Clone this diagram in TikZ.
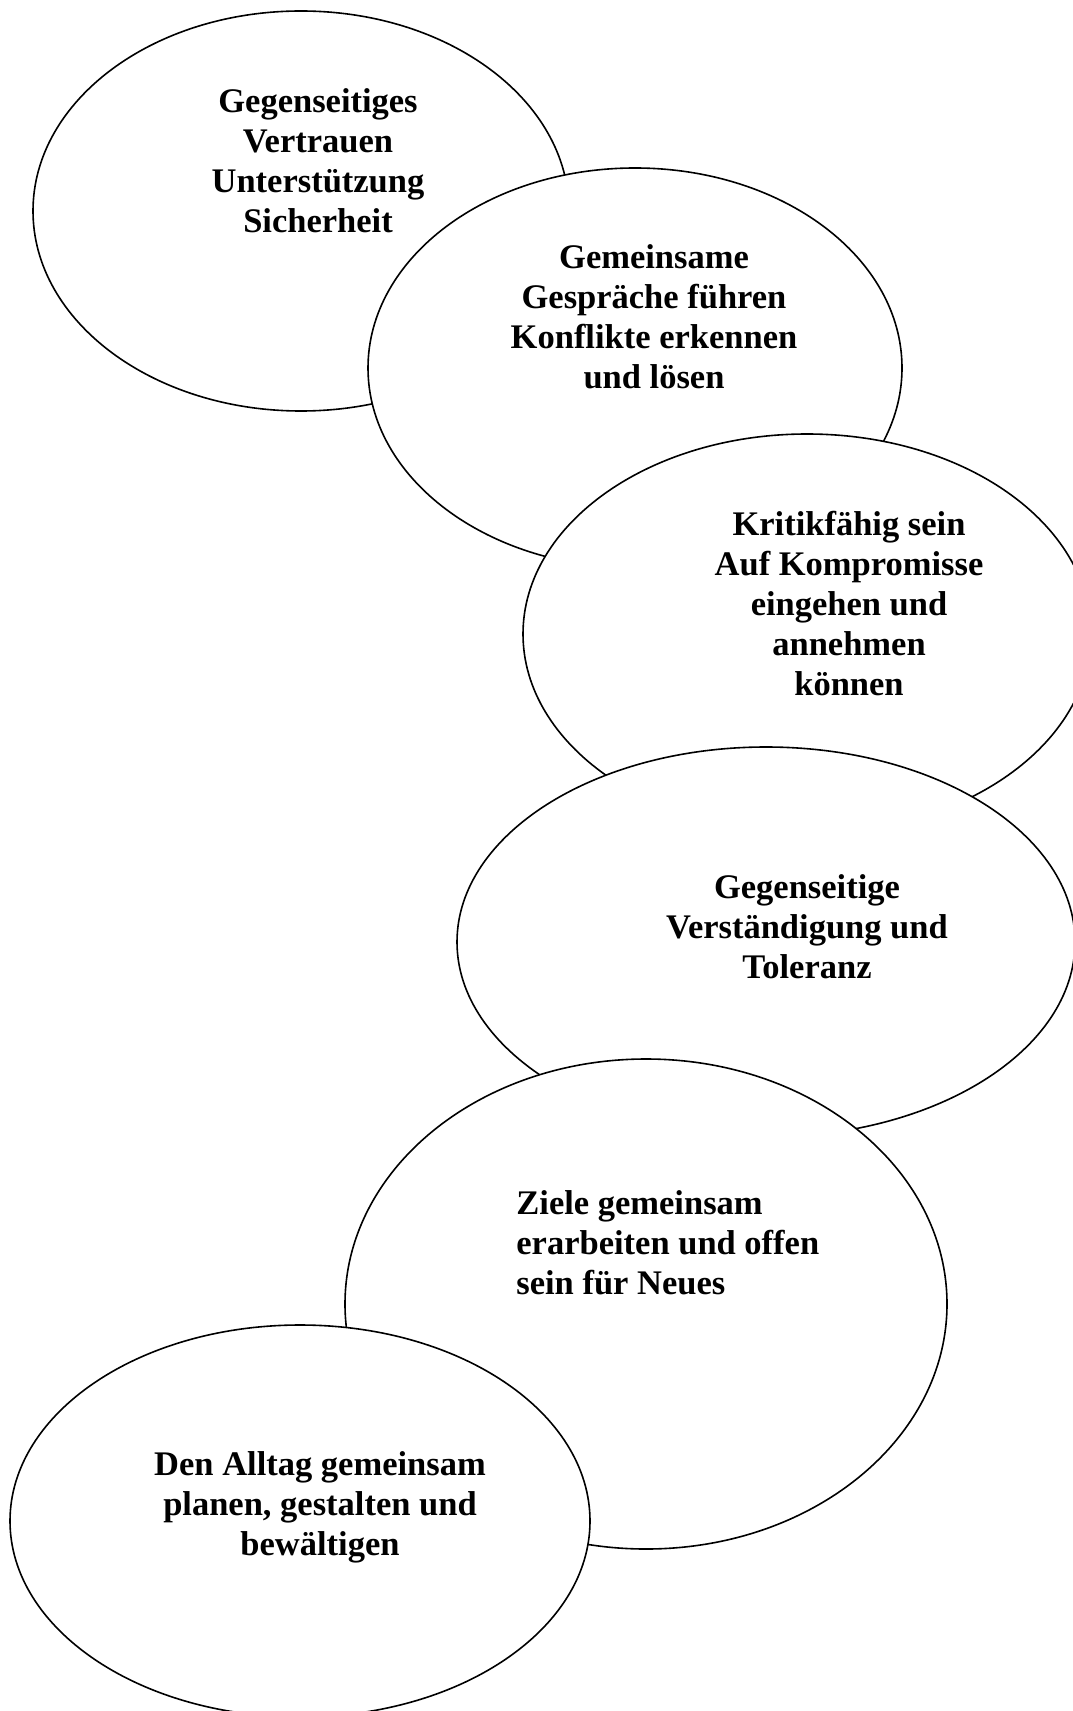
\documentclass[tikz,border=0pt]{standalone}
\usepackage{fontspec}
\setmainfont{Liberation Serif}
\usetikzlibrary{shapes.geometric}

\begin{document}
\begin{tikzpicture}[x=0.5pt, y=-0.5pt,
    bubble/.style={ellipse, draw, fill=white, line width=0.8pt, inner sep=0pt},
    words/.style={font=\fontsize{17.25}{20}\selectfont\bfseries, align=center, inner sep=0pt}]
    \useasboundingbox (0,0) rectangle (1072,1711);
    \node[bubble, minimum width=268pt, minimum height=200pt] (e1) at (301,211) {};
    \node[words] (t1) at (318,161) {Gegenseitiges\\Vertrauen\\Unterstützung\\Sicherheit};
    \node[bubble, minimum width=267pt, minimum height=200pt] (e2) at (635,368) {};
    \node[words] (t2) at (654,317) {Gemeinsame\\Gespräche führen\\Konflikte erkennen\\und lösen};
    \node[bubble, minimum width=284pt, minimum height=200pt] (e3) at (807,634) {};
    \node[words] (t3) at (849,604) {Kritikfähig sein\\Auf Kompromisse\\eingehen und\\annehmen\\können};
    \node[bubble, minimum width=309pt, minimum height=195pt] (e4) at (766,942) {};
    \node[words] (t4) at (807,927) {Gegenseitige\\Verständigung und\\Toleranz};
    \node[bubble, minimum width=301pt, minimum height=245pt] (e5) at (646,1304) {};
    \node[words, align=left, anchor=west] (t5) at (516,1243) {Ziele gemeinsam\\erarbeiten und offen\\sein für Neues};
    \node[bubble, minimum width=290pt, minimum height=196pt] (e6) at (300,1521) {};
    \node[words] (t6) at (320,1507) {Den Alltag gemeinsam\\planen, gestalten und\\bewältigen};
\end{tikzpicture}
\end{document}
